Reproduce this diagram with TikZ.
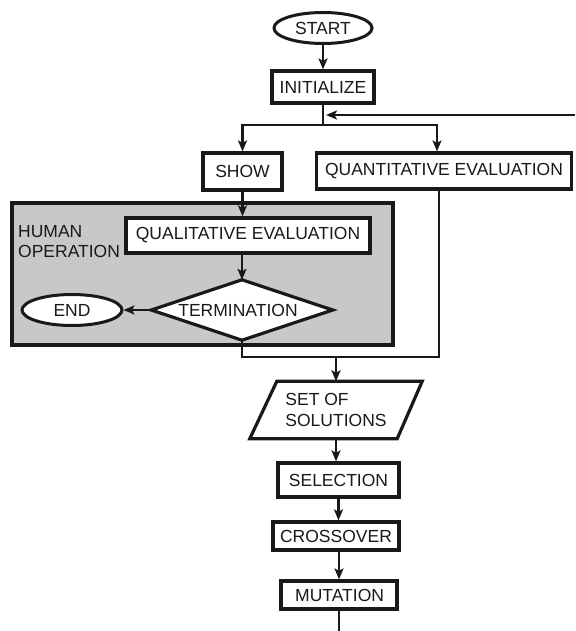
\documentclass[tikz,border=0pt]{standalone}
\usepackage{fontspec}
\setmainfont{Liberation Sans}
\usetikzlibrary{shapes.geometric,arrows.meta}
\definecolor{ink}{RGB}{25,25,25}
\definecolor{panel}{RGB}{200,200,200}
\begin{document}
\begin{tikzpicture}[x=1pt,y=-1pt,
  every node/.style={font=\fontsize{17.5}{20.5}\selectfont, text=ink, inner sep=0pt},
  box/.style={draw=ink, line width=3.2pt, fill=white, rectangle},
  terminal/.style={draw=ink, line width=3pt, fill=white, ellipse},
  outline/.style={draw=ink, line width=3.2pt, line join=miter},
  link/.style={draw=ink, line width=2.4pt},
  arr/.style={link, -{Stealth[length=11pt,width=9pt,inset=2.5pt]}},
]
\useasboundingbox (0,0) rectangle (575,631);

% shaded panel for the human part of the loop
\node[draw=ink, line width=3.2pt, fill=panel, minimum width=381pt, minimum height=142pt] (human) at (202.5,274) {};
\node[anchor=north west, align=left] (humanlabel) at (18,225) {HUMAN\\OPERATION};

% process steps
\node[terminal, minimum width=98pt, minimum height=31pt] (start) at (323,28) {START};
\node[box, minimum width=102pt, minimum height=32pt] (init) at (323,87) {INITIALIZE};
\node[box, minimum width=79pt, minimum height=37pt] (show) at (242.5,171.5) {SHOW};
\node[box, minimum width=255pt, minimum height=36pt] (quant) at (444,171) {QUANTITATIVE EVALUATION};
\node[box, minimum width=244pt, minimum height=35pt] (qual) at (248,235.5) {QUALITATIVE EVALUATION};

% decision: a flat diamond around its label
\node[minimum width=181pt, minimum height=60pt] (term) at (242,310) {};
\filldraw[outline, fill=white] (term.west) -- (term.north) -- (term.east) -- (term.south) -- cycle;
\node (termlabel) at (238,310) {TERMINATION};

\node[terminal, minimum width=100pt, minimum height=31pt] (endnode) at (72,310) {END};

% data: a parallelogram around its label
\node[align=left, minimum width=172pt, minimum height=57pt] (sos) at (336,410) {SET OF\\SOLUTIONS};
\draw[outline]
  ([xshift=27pt]sos.north west) -- (sos.north east) -- ([xshift=-25pt]sos.south east)
  -- (sos.south west) -- cycle;

\node[box, minimum width=121pt, minimum height=34pt] (sel) at (338.5,480) {SELECTION};
\node[box, minimum width=126pt, minimum height=28pt] (cross) at (336,536) {CROSSOVER};
\node[box, minimum width=116pt, minimum height=28pt, text width=90pt, align=right] (mut) at (339,595) {MUTATION};

% junction points of the connectors
\coordinate (fork) at (323,125);
\coordinate (loopin) at (575,115);
\coordinate (merge) at (336,357);
\coordinate (out) at (339,631);

% connectors
\draw[arr] (start.south) -- (start.south |- init.north);
\draw[link] (init.south) -- (fork);
\draw[arr] (fork) -| (show.north);
\draw[arr] (fork) -| ([xshift=-7pt]quant.north);
\draw[arr] (loopin) -- ([xshift=3pt]fork |- loopin);
\draw[arr] (show.south) -- (show.south |- qual.north);
\draw[arr] (term.north |- qual.south) -- (term.north);
\draw[arr] (term.west) -- (endnode.east);
\draw[link] (term.south) |- (merge) -| ([xshift=-5pt]quant.south);
\draw[arr] (merge) -- (sos.north);
\draw[arr] (sos.south) -- (sos.south |- sel.north);
\draw[arr] (sel.south) -- (sel.south |- cross.north);
\draw[arr] (mut.north |- cross.south) -- (mut.north);
\draw[link] (mut.south) -- (out);
\end{tikzpicture}
\end{document}
